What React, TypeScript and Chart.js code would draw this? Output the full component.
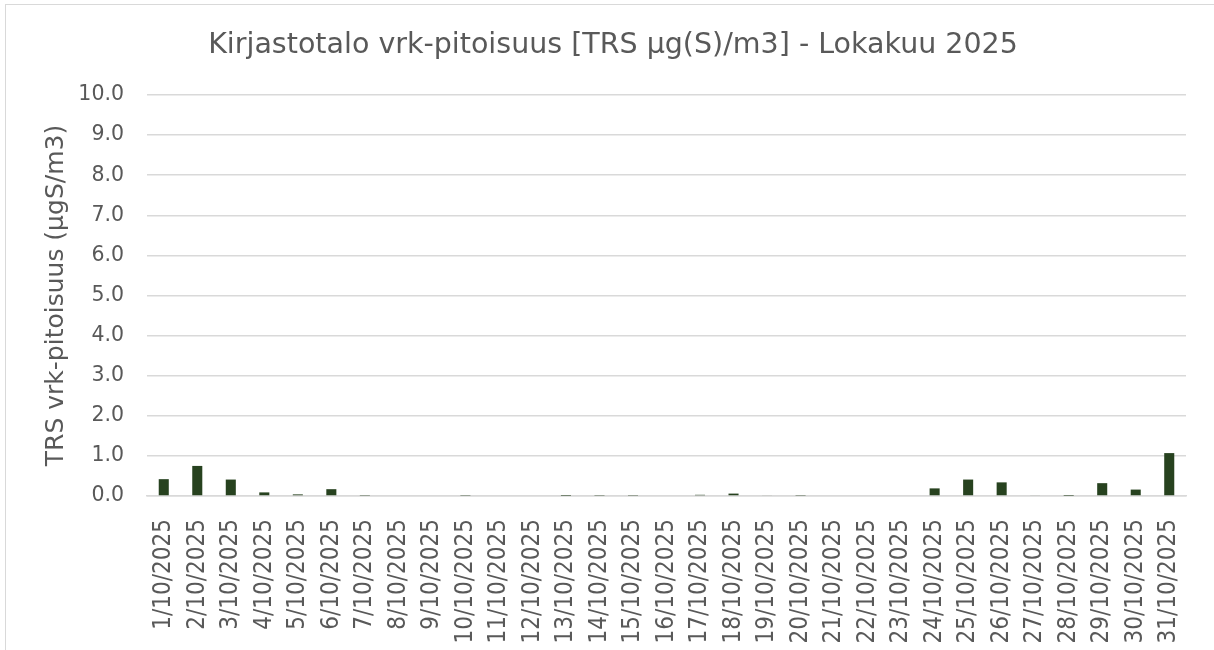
import React, { useEffect, useRef } from "react";
import { Chart, registerables } from "chart.js";

Chart.register(...registerables);

const TITLE = "Kirjastotalo vrk-pitoisuus [TRS µg(S)/m3] - Lokakuu 2025";
const Y_TITLE = "TRS vrk-pitoisuus (µgS/m3)";
const DAYS: string[] = [
  "1/10/2025", "2/10/2025", "3/10/2025", "4/10/2025", "5/10/2025", "6/10/2025",
  "7/10/2025", "8/10/2025", "9/10/2025", "10/10/2025", "11/10/2025", "12/10/2025",
  "13/10/2025", "14/10/2025", "15/10/2025", "16/10/2025", "17/10/2025", "18/10/2025",
  "19/10/2025", "20/10/2025", "21/10/2025", "22/10/2025", "23/10/2025", "24/10/2025",
  "25/10/2025", "26/10/2025", "27/10/2025", "28/10/2025", "29/10/2025", "30/10/2025",
  "31/10/2025",
];
const TRS_VALUES: number[] = [
  0.42, 0.75, 0.41, 0.09, 0.04, 0.17, 0.01, 0.0, 0.0, 0.01, 0.0, 0.0,
  0.005, 0.01, 0.01, 0.0, 0.03, 0.06, 0.02, 0.01, 0.0, 0.0, 0.0, 0.19,
  0.41, 0.34, 0.02, 0.005, 0.32, 0.16, 1.07,
];
const Y_MIN = 0;
const Y_MAX = 10;
const Y_STEP = 1;

const FONT = "'DejaVu Sans', sans-serif";
const FONT_COND = "'DejaVu Sans Condensed', 'DejaVu Sans', sans-serif";
const TEXT = "#595959";
const GRID = "#D9D9D9";
const BAR = "#27421F";

export default function App() {
  const ref = useRef<HTMLCanvasElement | null>(null);
  useEffect(() => {
    if (!ref.current) return;
    const chart = new Chart(ref.current, {
      type: "bar",
      data: {
        labels: DAYS,
        datasets: [
          {
            data: TRS_VALUES,
            backgroundColor: BAR,
            barPercentage: 0.3,
            categoryPercentage: 1,
          },
        ],
      },
      options: {
        responsive: false,
        animation: false,
        layout: { padding: { left: 40, right: 28, top: 0, bottom: 0 } },
        plugins: {
          legend: { display: false },
          tooltip: { enabled: false },
          title: {
            display: true,
            text: TITLE,
            color: TEXT,
            font: { family: FONT, size: 28.5, weight: "normal" },
            padding: { top: 28, bottom: 32.8 },
          },
        },
        scales: {
          x: {
            afterFit: (scale: any) => {
              scale.height = 154;
            },
            grid: { display: false },
            border: { display: true, color: GRID, width: 1.5 },
            ticks: {
              autoSkip: false,
              minRotation: 90,
              maxRotation: 90,
              color: TEXT,
              font: { family: FONT_COND, size: 24 },
              padding: 15,
            },
          },
          y: {
            min: Y_MIN,
            max: Y_MAX,
            afterFit: (scale: any) => {
              scale.width = 107;
            },
            border: { display: false },
            grid: { color: GRID, lineWidth: 1.5, drawTicks: false },
            ticks: {
              stepSize: Y_STEP,
              color: TEXT,
              font: { family: FONT, size: 20.5 },
              padding: 23,
              callback: (v: any) => Number(v).toFixed(1),
            },
            title: {
              display: true,
              text: Y_TITLE,
              color: TEXT,
              font: { family: FONT, size: 25 },
              padding: { top: 1.5, bottom: 0 },
            },
          },
        },
      },
    });
    return () => chart.destroy();
  }, []);
  return (
    <div
      style={{
        position: "fixed",
        left: 0,
        top: 0,
        width: 1214,
        height: 650,
        overflow: "hidden",
        background: "#fff",
      }}
    >
      <div
        style={{
          position: "absolute",
          left: 5,
          top: 4,
          width: 1240,
          height: 700,
          border: "1.5px solid #D9D9D9",
          boxSizing: "border-box",
        }}
      />
      <canvas
        ref={ref}
        width={1214}
        height={650}
        style={{ position: "absolute", left: 0, top: 0, width: 1214, height: 650 }}
      />
    </div>
  );
}
